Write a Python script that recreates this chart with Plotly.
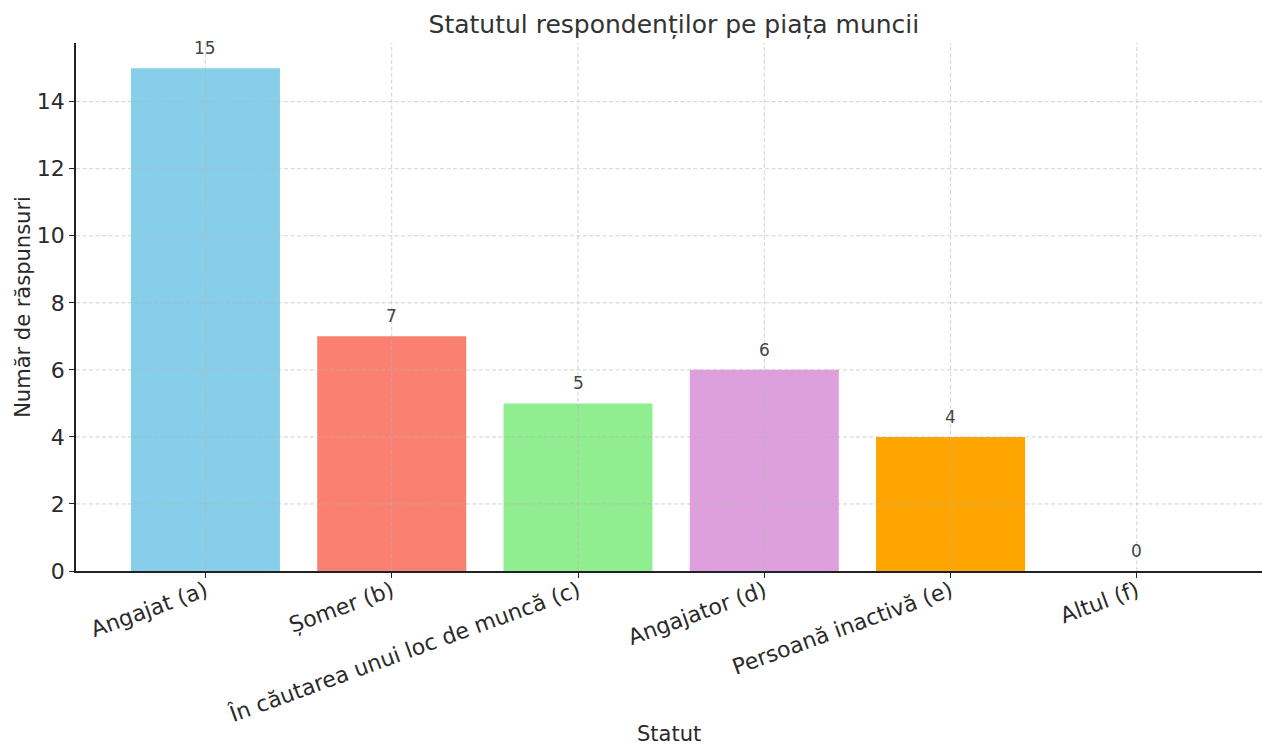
import plotly.graph_objects as go

categories = ["Angajat (a)", "Șomer (b)", "În căutarea unui loc de muncă (c)",
              "Angajator (d)", "Persoană inactivă (e)", "Altul (f)"]
counts = [15, 7, 5, 6, 4, 0]
colors = ["#87CEEB", "#FA8072", "#90EE90", "#DDA0DD", "#FFA500", "#F08080"]
y_ticks = [0, 2, 4, 6, 8, 10, 12, 14]

FONT = "DejaVu Sans"
x_pos = list(range(len(categories)))

fig = go.Figure()
fig.add_trace(go.Bar(
    x=x_pos, y=counts, width=0.8,
    marker=dict(color=colors, line=dict(width=0)),
    hoverinfo="skip",
))

# value labels above each bar
for xi, v in zip(x_pos, counts):
    fig.add_annotation(x=xi, y=v, text=str(v), showarrow=False,
                       yanchor="bottom", yshift=8,
                       font=dict(family=FONT, size=17, color="#444444"))

# x-axis title placed below the rotated category labels
fig.add_annotation(xref="paper", yref="paper", x=0.5, y=-0.308,
                   text="Statut", showarrow=False,
                   xanchor="center", yanchor="middle",
                   font=dict(family=FONT, size=21, color="#2a2a2a"))

# dashed grid drawn over the bars
grid = dict(color="rgba(180,180,180,0.6)", width=1, dash="4px,2.5px")
for xi in x_pos:
    fig.add_shape(type="line", xref="x", yref="paper", x0=xi, x1=xi, y0=0, y1=1,
                  line=grid, layer="above")
for yt in y_ticks[1:]:
    fig.add_shape(type="line", xref="paper", yref="y", x0=0, x1=1, y0=yt, y1=yt,
                  line=grid, layer="above")

fig.update_layout(
    width=1262, height=748,
    margin=dict(l=76, r=0, t=43, b=177),
    plot_bgcolor="white", paper_bgcolor="white",
    showlegend=False,
    title=dict(text="Statutul respondenților pe piața muncii", x=0.534, xanchor="center",
               y=0.968, yanchor="middle",
               font=dict(family=FONT, size=25, color="#333333")),
    xaxis=dict(
        tickmode="array", tickvals=x_pos, ticktext=categories,
        tickangle=-20, range=[-0.695, 5.672], automargin=False,
        ticklabelstandoff=-8,
        showgrid=False, zeroline=False,
        showline=True, linecolor="#222222", linewidth=1.5,
        ticks="outside", ticklen=5, tickcolor="#222222",
        tickfont=dict(family=FONT, size=22, color="#2a2a2a"),
    ),
    yaxis=dict(
        tickmode="array", tickvals=y_ticks,
        range=[0, 15.75], automargin=False,
        showgrid=False, zeroline=False,
        showline=True, linecolor="#222222", linewidth=1.5,
        ticks="outside", ticklen=5, tickcolor="#222222",
        tickfont=dict(family=FONT, size=22, color="#2a2a2a"),
        title=dict(text="Număr de răspunsuri", standoff=0,
                   font=dict(family=FONT, size=21, color="#2a2a2a")),
    ),
)

fig.write_html("out.html")
